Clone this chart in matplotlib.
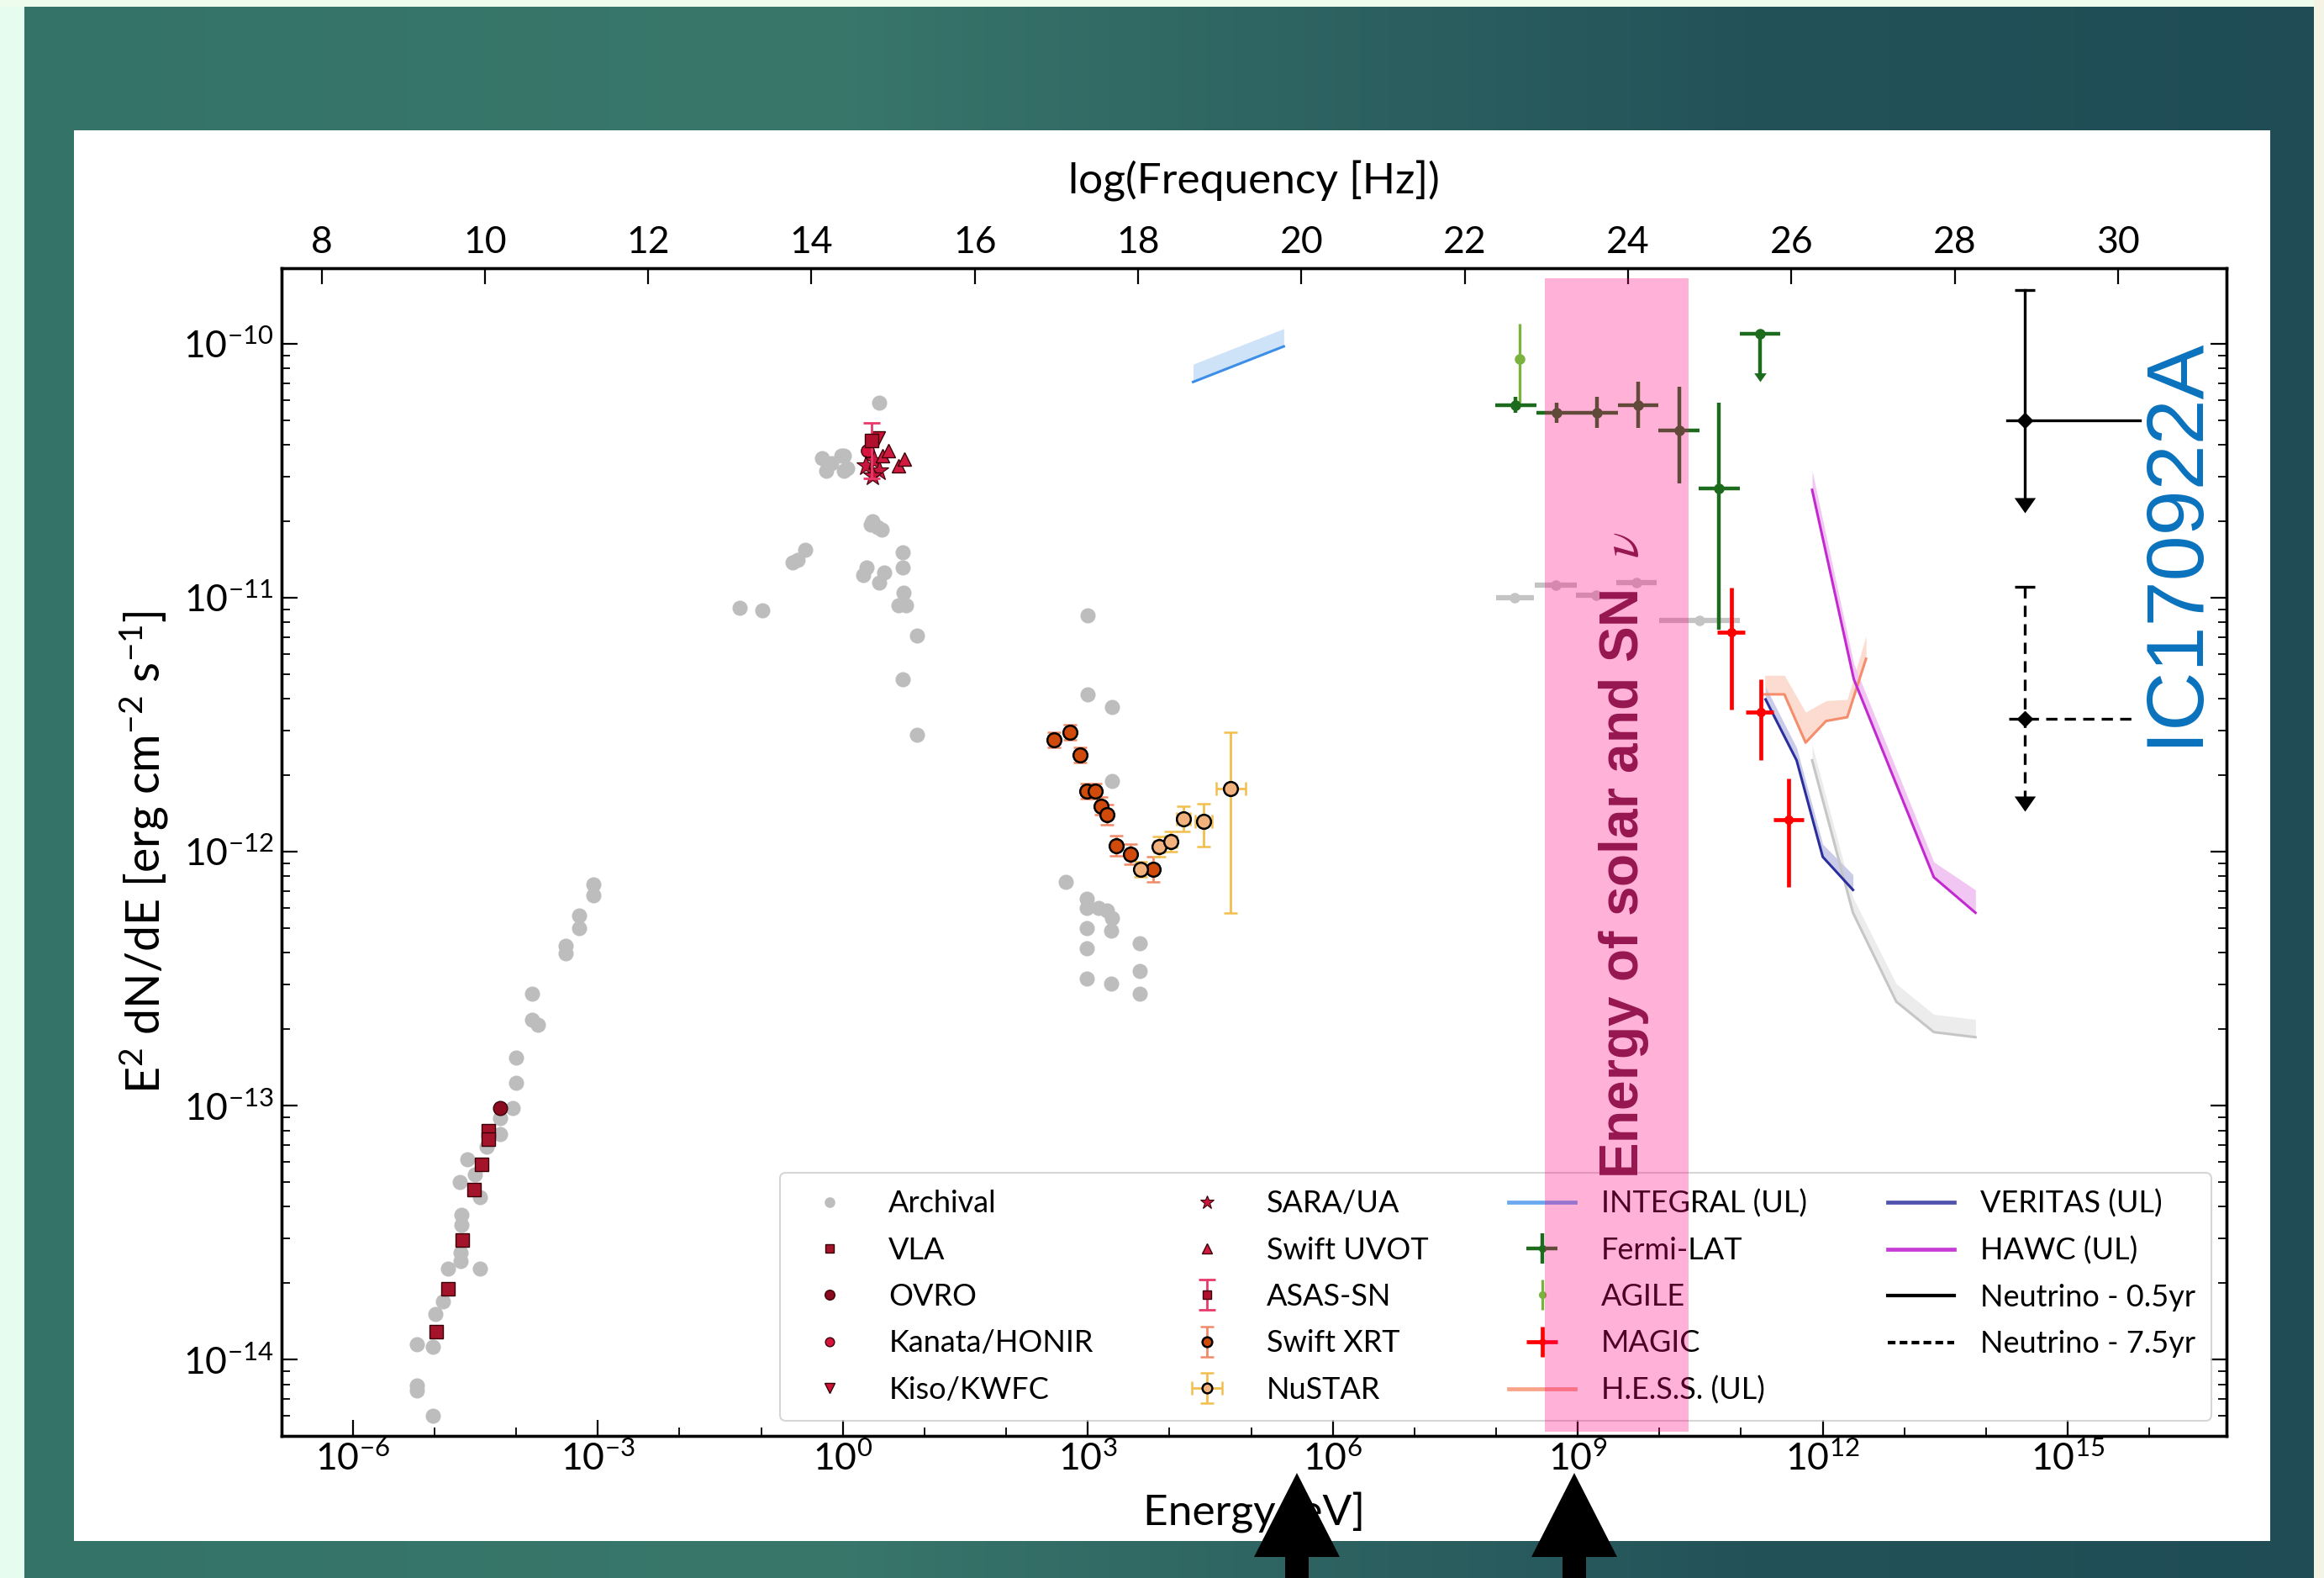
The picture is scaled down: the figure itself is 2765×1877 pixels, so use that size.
import numpy as np
import matplotlib
matplotlib.use("Agg")
import matplotlib.pyplot as plt
from matplotlib.patches import Rectangle, Polygon
from matplotlib.path import Path
from matplotlib.lines import Line2D
from matplotlib.ticker import FixedLocator, NullFormatter, FuncFormatter, LogLocator

plt.rcParams['font.family'] = ['Lato', 'DejaVu Sans']
plt.rcParams['mathtext.fontset'] = 'custom'
plt.rcParams['mathtext.rm'] = 'Lato'
plt.rcParams['mathtext.it'] = 'Lato:italic'
plt.rcParams['mathtext.bf'] = 'Lato:bold'
plt.rcParams['mathtext.sf'] = 'Lato'

# ---------------- data: log10 E [eV], log10 E^2 dN/dE [erg cm^-2 s^-1] ----------------
arch_logE = [-3.05, -3.05, -3.23, -3.23, -3.39, -3.39, -3.81, -3.81, -3.73, -4.00, -4.00,
             -4.04, -4.20, -4.20, -4.60, -4.69, -4.44, -4.67, -4.67, -4.68, -4.68, -4.83,
             -4.44, -4.90, -4.99, -5.22, -5.02, -5.22, -5.22, -5.02, -4.36, -4.50,
             0.45, 0.01, 0.01, -0.25, -0.14, -0.02, 0.36, 0.48, 0.73, 0.73, 0.29, 0.25,
             0.45, 0.51, 0.74, 0.68, 0.78, 0.91, 0.73, 0.91, -0.55, -0.46, -0.61, -1.26,
             -0.98, 0.34, 0.43, -0.20, 0.05,
             2.995, 2.995, 3.30, 3.30, 2.73, 2.99, 2.99, 3.13, 3.23, 3.30, 2.99, 3.29,
             2.99, 3.64, 3.64, 2.99, 3.29, 3.64]
arch_logF = [-12.13, -12.17, -12.25, -12.30, -12.37, -12.40, -12.56, -12.66, -12.68, -12.81,
             -12.91, -13.01, -13.05, -13.11, -13.21, -13.30, -13.36, -13.43, -13.47, -13.58,
             -13.61, -13.64, -13.64, -13.77, -13.82, -13.94, -13.95, -14.10, -14.12, -14.22,
             -13.16, -13.27,
             -10.23, -10.44, -10.50, -10.45, -10.47, -10.44, -10.70, -10.73, -10.82, -10.88,
             -10.88, -10.91, -10.94, -10.90, -10.98, -11.03, -11.03, -11.15, -11.32, -11.54,
             -10.85, -10.81, -10.86, -11.04, -11.05, -10.71, -10.72, -10.50, -10.49,
             -11.07, -11.38, -11.43, -11.72, -12.12, -12.185, -12.22, -12.22, -12.23, -12.26,
             -12.30, -12.31, -12.38, -12.36, -12.47, -12.50, -12.52, -12.56]

vla_logE = [-4.34, -4.34, -4.42, -4.51, -4.66, -4.83, -4.98]
vla_logF = [-13.10, -13.13, -13.23, -13.33, -13.53, -13.72, -13.89]
ovro_logE = [-4.20]
ovro_logF = [-13.01]
kanata_logE = [0.30]
kanata_logF = [-10.42]
kiso_logE = [0.44]
kiso_logF = [-10.37]
sara_logE = [0.28, 0.38, 0.45, 0.36]
sara_logF = [-10.48, -10.46, -10.50, -10.52]
uvot_logE = [0.49, 0.56, 0.68, 0.75]
uvot_logF = [-10.44, -10.42, -10.48, -10.455]
asas_logE = [0.35]
asas_logF = [-10.38]
asas_dlo = [0.15]
asas_dhi = [0.07]

xrt_logE = [2.59, 2.78, 2.91, 2.99, 3.09, 3.16, 3.24, 3.35, 3.52, 3.80]
xrt_logF = [-11.56, -11.53, -11.62, -11.76, -11.76, -11.82, -11.855, -11.975, -12.01, -12.07]
xrt_dF = [0.03, 0.03, 0.03, 0.03, 0.03, 0.035, 0.04, 0.04, 0.04, 0.05]

nustar_logE = [3.65, 3.87, 4.02, 4.17, 4.42, 4.75]
nustar_logF = [-12.07, -11.98, -11.96, -11.87, -11.88, -11.75]
nustar_dx = [0.06, 0.06, 0.07, 0.08, 0.10, 0.18]
nustar_dlo = [0.03, 0.04, 0.04, 0.05, 0.10, 0.49]
nustar_dhi = [0.03, 0.04, 0.04, 0.05, 0.07, 0.22]

integral_logE = [4.29, 5.40]
integral_logF = [-10.15, -10.01]
integral_logF_up = [-10.08, -9.94]

fermi_logE = [8.24, 8.74, 9.24, 9.74, 10.24, 10.73]
fermi_logF = [-10.24, -10.27, -10.27, -10.24, -10.34, -10.57]
fermi_dx = [0.25, 0.25, 0.25, 0.25, 0.25, 0.25]
fermi_dlo = [0.03, 0.04, 0.06, 0.09, 0.21, 0.555]
fermi_dhi = [0.03, 0.04, 0.06, 0.09, 0.17, 0.34]
fermi_ul_logE = [11.23]
fermi_ul_logF = [-9.96]
fermi_ul_dx = [0.25]
fermi_ul_tip = [-10.15]

agile_logE = [8.29]
agile_logF = [-10.06]
agile_dlo = [0.17]
agile_dhi = [0.14]

fermi_arch_logE = [8.23, 8.73, 9.23, 9.72, 10.49]
fermi_arch_logF = [-11.00, -10.95, -10.99, -10.94, -11.09]
fermi_arch_dx = [0.23, 0.26, 0.25, 0.25, 0.495]

magic_logE = [10.88, 11.24, 11.58]
magic_logF = [-11.135, -11.45, -11.875]
magic_dxlo = [0.17, 0.18, 0.18]
magic_dxhi = [0.17, 0.16, 0.19]
magic_dlo = [0.305, 0.19, 0.265]
magic_dhi = [0.175, 0.13, 0.165]

hess_logE = [11.29, 11.53, 11.79, 12.04, 12.30, 12.53]
hess_logF = [-11.38, -11.38, -11.57, -11.485, -11.47, -11.24]
hess_band = [0.075, 0.075, 0.12, 0.08, 0.07, 0.09]

veritas_logE = [11.30, 11.68, 12.00, 12.37]
veritas_logF = [-11.40, -11.64, -12.02, -12.15]
veritas_band = [0.05, 0.05, 0.05, 0.06]

hawc_logE = [11.87, 12.38, 13.36, 13.87]
hawc_logF = [-10.575, -11.32, -12.10, -12.24]
hawc_band = [0.075, 0.06, 0.06, 0.09]

sens_logE = [11.87, 12.37, 12.90, 13.36, 13.87]
sens_logF = [-11.64, -12.24, -12.59, -12.71, -12.73]
sens_band = [0.06, 0.06, 0.07, 0.07, 0.07]

nu_labels = ['Neutrino - 0.5yr', 'Neutrino - 7.5yr']
nu_logE = [14.47, 14.47]
nu_logF = [-10.30, -11.476]
nu_logE_lo = [14.26, 14.28]
nu_logE_hi = [15.88, 15.81]
nu_logF_cap = [-9.787, -10.957]
nu_logF_tip = [-10.665, -11.84]

freq_ticks = [8, 10, 12, 14, 16, 18, 20, 22, 24, 26, 28, 30]
energy_major_exp = [-6, -3, 0, 3, 6, 9, 12, 15]
LOG_HZ_PER_EV = 14.383

# ---------------- helpers ----------------
def p(v):
    return 10.0 ** np.asarray(v, float)

def asym(logv, lo, hi):
    logv = np.asarray(logv, float)
    v = 10.0 ** logv
    return np.vstack([v - 10.0 ** (logv - np.asarray(lo, float)),
                      10.0 ** (logv + np.asarray(hi, float)) - v])

W, H = 2765, 1877
DPI = 100
fig = plt.figure(figsize=(W / DPI, H / DPI), dpi=DPI)

def fx(px):
    return px / W

def fy(py):
    return 1 - py / H

# ---------------- slide background ----------------
bg = fig.add_axes([0, 0, 1, 1], zorder=-10)
bg.set_axis_off()
stops_x = [0.0, 0.35, 0.55, 0.75, 1.0]
stops_c = np.array([[52, 115, 104], [57, 119, 107], [46, 100, 98], [35, 83, 89], [31, 76, 85]]) / 255
xs = np.linspace(0, 1, 800)
grad = np.stack([np.interp(xs, stops_x, stops_c[:, k]) for k in range(3)], axis=-1)
bg.imshow(grad[None, :, :], extent=[0, 1, 0, 1], aspect='auto')
bg.set_xlim(0, 1)
bg.set_ylim(0, 1)
bg.add_patch(Rectangle((0, 0), 29 / W, 1, color='#e6fcef', lw=0))
bg.add_patch(Rectangle((0, 1 - 8 / H), 1, 8 / H, color='#eefcee', lw=0))
bg.add_patch(Rectangle((2753 / W, 0), 12 / W, 1, color='#f5f3e4', lw=0))
bg.add_patch(Rectangle((fx(88), fy(1833)), (2701 - 88) / W, (1833 - 155) / H, color='white', lw=0))

# ---------------- main axes ----------------
ax = fig.add_axes([335 / W, 1 - 1708 / H, (2649 - 335) / W, (1708 - 319) / H])
ax.set_xscale('log')
ax.set_yscale('log')
XLIM = (10 ** -6.872, 10 ** 16.944)
YLIM = (10 ** -14.30, 10 ** -9.702)

arch, = ax.plot(p(arch_logE), p(arch_logF), 'o', color='#bdbdbd', ms=13, mec='none', zorder=2, label='Archival')

# gray archival Fermi points
ax.errorbar(p(fermi_arch_logE), p(fermi_arch_logF), xerr=asym(fermi_arch_logE, fermi_arch_dx, fermi_arch_dx),
            fmt='o', color='#c4c4c4', ms=8, elinewidth=4.5, capsize=0, zorder=2)

# TeV curves with bands
def band_line(lx, ly, dband, lcol, fcol, z=3):
    x = p(lx)
    ax.fill_between(x, p(ly), p(np.asarray(ly) + np.asarray(dband)), color=fcol, lw=0, zorder=z - 0.5)
    ax.plot(x, p(ly), color=lcol, lw=2.2, zorder=z)

band_line(sens_logE, sens_logF, sens_band, '#c6c6c6', '#ececec')
band_line(integral_logE, integral_logF, np.subtract(integral_logF_up, integral_logF), '#3d8ee8', '#cfe3f8')
band_line(hess_logE, hess_logF, hess_band, '#f58c6c', '#fcdcd0')
band_line(veritas_logE, veritas_logF, veritas_band, '#2b2f9e', '#c9cbe9')
band_line(hawc_logE, hawc_logF, hawc_band, '#c22ad0', '#f1c6f2')
integral_h = Line2D([], [], color='#6aa8f0', lw=3.4, label='INTEGRAL (UL)')
hess_h = Line2D([], [], color='#f9a388', lw=3.4, label='H.E.S.S. (UL)')
veritas_h = Line2D([], [], color='#4f53ad', lw=3.4, label='VERITAS (UL)')
hawc_h = Line2D([], [], color='#c83cd6', lw=3.4, label='HAWC (UL)')

vla, = ax.plot(p(vla_logE), p(vla_logF), 's', color='#a31329', mec='#3a0008', mew=1.0, ms=11, zorder=4, label='VLA')
ovro, = ax.plot(p(ovro_logE), p(ovro_logF), 'o', color='#8b0a1e', mec='#3a0008', mew=1.0, ms=12, zorder=4, label='OVRO')
kanata, = ax.plot(p(kanata_logE), p(kanata_logF), 'o', color='#d7143c', mec='#3a0008', mew=1.0, ms=11, zorder=4, label='Kanata/HONIR')
kiso, = ax.plot(p(kiso_logE), p(kiso_logF), 'v', color='#cc1236', mec='#3a0008', mew=1.0, ms=12, zorder=4, label='Kiso/KWFC')
sara, = ax.plot(p(sara_logE), p(sara_logF), '*', color='#c8163c', mec='#3a0008', mew=0.8, ms=17, zorder=4, label='SARA/UA')
uvot, = ax.plot(p(uvot_logE), p(uvot_logF), '^', color='#d21a40', mec='#3a0008', mew=1.0, ms=12, zorder=4, label='Swift UVOT')
asas = ax.errorbar(p(asas_logE), p(asas_logF), yerr=asym(asas_logF, asas_dlo, asas_dhi), fmt='s',
                   color='#b0102e', mec='#3a0008', ecolor='#e83a6a', elinewidth=2, capsize=7, capthick=2,
                   ms=11, zorder=5, label='ASAS-SN')

xrt = ax.errorbar(p(xrt_logE), p(xrt_logF), yerr=asym(xrt_logF, xrt_dF, xrt_dF), fmt='o',
                  mfc='#d04a0c', mec='black', mew=1.8, ecolor='#f08a68', elinewidth=2, capsize=6, capthick=2,
                  ms=12, zorder=5, label='Swift XRT')
nustar = ax.errorbar(p(nustar_logE), p(nustar_logF), xerr=asym(nustar_logE, nustar_dx, nustar_dx),
                     yerr=asym(nustar_logF, nustar_dlo, nustar_dhi), fmt='o', mfc='#f2b27e', mec='black',
                     mew=1.8, ecolor='#f2be4e', elinewidth=2, capsize=6, capthick=2, ms=12, zorder=5,
                     label='NuSTAR')

fermi = ax.errorbar(p(fermi_logE), p(fermi_logF), xerr=asym(fermi_logE, fermi_dx, fermi_dx),
                    yerr=asym(fermi_logF, fermi_dlo, fermi_dhi), fmt='o', color='#1d6b1d', ms=8,
                    elinewidth=3.2, capsize=0, zorder=6, label='Fermi-LAT')
agile = ax.errorbar(p(agile_logE), p(agile_logF), yerr=asym(agile_logF, agile_dlo, agile_dhi), fmt='o',
                    color='#7ab43e', ms=8, elinewidth=2.4, capsize=0, zorder=5, label='AGILE')
magic = ax.errorbar(p(magic_logE), p(magic_logF), xerr=asym(magic_logE, magic_dxlo, magic_dxhi),
                    yerr=asym(magic_logF, magic_dlo, magic_dhi), fmt='o', color='#ff0000', ms=7,
                    elinewidth=3.4, capsize=0, zorder=6, label='MAGIC')

# arrow-head marker with its tip at the data point
arrow_marker = Path([(-0.7, 1.0), (0.7, 1.0), (0.0, 0.0), (-0.7, 1.0)],
                    [Path.MOVETO, Path.LINETO, Path.LINETO, Path.CLOSEPOLY])

# Fermi upper limit
ax.errorbar(p(fermi_ul_logE), p(fermi_ul_logF), xerr=asym(fermi_ul_logE, fermi_ul_dx, fermi_ul_dx),
            fmt='o', color='#1d6b1d', ms=8, elinewidth=3.2, capsize=0, zorder=6)
for xe, ye, te in zip(fermi_ul_logE, fermi_ul_logF, fermi_ul_tip):
    ax.plot(p([xe, xe]), p([ye, te + 0.02]), color='#1d6b1d', lw=3.2, zorder=6)
    ax.plot(p([xe]), p([te]), marker=arrow_marker, ms=15, color='#1d6b1d', mec='none', zorder=6)

# neutrino upper limits
nu_handles = []
for i, (lab, ls) in enumerate(zip(nu_labels, ['-', (0, (4, 2.6))])):
    xe, ye = nu_logE[i], nu_logF[i]
    ax.plot(p([nu_logE_lo[i], nu_logE_hi[i]]), p([ye, ye]), color='k', lw=2.4, ls=ls, zorder=6)
    ax.plot(p([xe, xe]), p([nu_logF_cap[i], nu_logF_tip[i] + 0.04]), color='k', lw=2.4, ls=ls, zorder=6)
    ax.plot(p([xe]), p([nu_logF_cap[i]]), marker='_', ms=17, mew=2.4, color='k', zorder=6)
    ax.plot(p([xe]), p([nu_logF_tip[i]]), marker=arrow_marker, ms=26, color='k', mec='none', zorder=6)
    ax.plot(p([xe]), p([ye]), marker='D', ms=9, color='k', zorder=7)
    nu_handles.append(Line2D([], [], color='k', lw=3.0, ls=(0, (2.2, 1.2)) if i else '-', label=lab))

ax.set_xlim(*XLIM)
ax.set_ylim(*YLIM)

# ticks
ax.xaxis.set_major_locator(FixedLocator([10.0 ** e for e in energy_major_exp]))
ax.xaxis.set_minor_locator(FixedLocator([10.0 ** e for e in range(-6, 17) if e not in energy_major_exp]))
ax.xaxis.set_major_formatter(FuncFormatter(lambda v, pos: r'$\mathdefault{10^{%d}}$' % int(round(np.log10(v)))))
ax.xaxis.set_minor_formatter(NullFormatter())
ax.yaxis.set_major_locator(LogLocator(base=10, numticks=20))
ax.yaxis.set_minor_locator(LogLocator(base=10, subs=np.arange(2, 10), numticks=20))
ax.yaxis.set_major_formatter(FuncFormatter(lambda v, pos: r'$\mathdefault{10^{%d}}$' % int(round(np.log10(v)))))
ax.yaxis.set_minor_formatter(NullFormatter())
ax.tick_params(axis='both', which='major', direction='in', length=14, width=1.6, labelsize=32)
ax.tick_params(axis='both', which='minor', direction='in', length=7.5, width=1.3)
ax.tick_params(axis='x', which='both', top=False, pad=5)
ax.tick_params(axis='y', which='both', right=True, pad=7)
for s in ax.spines.values():
    s.set_linewidth(2.4)

ax.set_xlabel('Energy [eV]', fontsize=37)
ax.xaxis.set_label_coords(0.5, -0.048)
ax.set_ylabel(r'E$^2$ dN/dE [erg cm$^{-2}$ s$^{-1}$]', fontsize=40)
ax.yaxis.set_label_coords(-0.057, 0.5)

ax2 = ax.twiny()
ax2.set_xlim(np.log10(XLIM[0]) + LOG_HZ_PER_EV, np.log10(XLIM[1]) + LOG_HZ_PER_EV)
ax2.set_xticks(freq_ticks)
ax2.xaxis.set_minor_locator(FixedLocator([]))
ax2.tick_params(axis='x', which='major', direction='in', length=14, width=1.6, labelsize=32, pad=7)
ax2.set_xlabel('log(Frequency [Hz])', fontsize=37)
ax2.xaxis.set_label_coords(0.5, 1.064)
for s in ax2.spines.values():
    s.set_linewidth(2.4)

# legend
handles = [arch, vla, ovro, kanata, kiso,
           sara, uvot, asas, xrt, nustar,
           integral_h, fermi, agile, magic, hess_h,
           veritas_h, hawc_h] + nu_handles
leg = ax.legend(handles=handles, labels=[h.get_label() for h in handles], ncol=4, loc='lower right',
                fontsize=26, markerscale=0.7, handlelength=2.2, handletextpad=0.85, columnspacing=2.65,
                labelspacing=0.62, borderpad=0.53, fancybox=True, edgecolor='#cccccc')
leg.get_frame().set_facecolor('none')
leg.get_frame().set_linewidth(1.5)

# ---------------- slide overlays ----------------
fig.add_artist(Rectangle((fx(1838), fy(1703)), (2009 - 1838) / W, (1703 - 331) / H,
                         transform=fig.transFigure, facecolor=(1.0, 0.0, 0.5), alpha=0.306,
                         lw=0, zorder=10))
fig.text(fx(1932), fy(1017), r'Energy of solar and SN  $\nu$', rotation=90, ha='center', va='center',
         fontsize=46, fontweight='bold', color='#961650', family='Liberation Sans',
         math_fontfamily='stix', zorder=11)
fig.text(fx(2588), fy(644), 'IC170922A', rotation=90, ha='center', va='center', fontsize=70,
         color='#0a72bd', family='Liberation Sans', zorder=11)

for cx in (1543, 1873):
    pts = [(cx, 1752), (cx - 51, 1852), (cx - 14, 1852), (cx - 14, 1877), (cx + 14, 1877),
           (cx + 14, 1852), (cx + 51, 1852)]
    fig.add_artist(Polygon([(fx(a), fy(b)) for a, b in pts], closed=True, transform=fig.transFigure,
                           facecolor='black', edgecolor='none', zorder=12))

fig.savefig('out.png', dpi=DPI)
